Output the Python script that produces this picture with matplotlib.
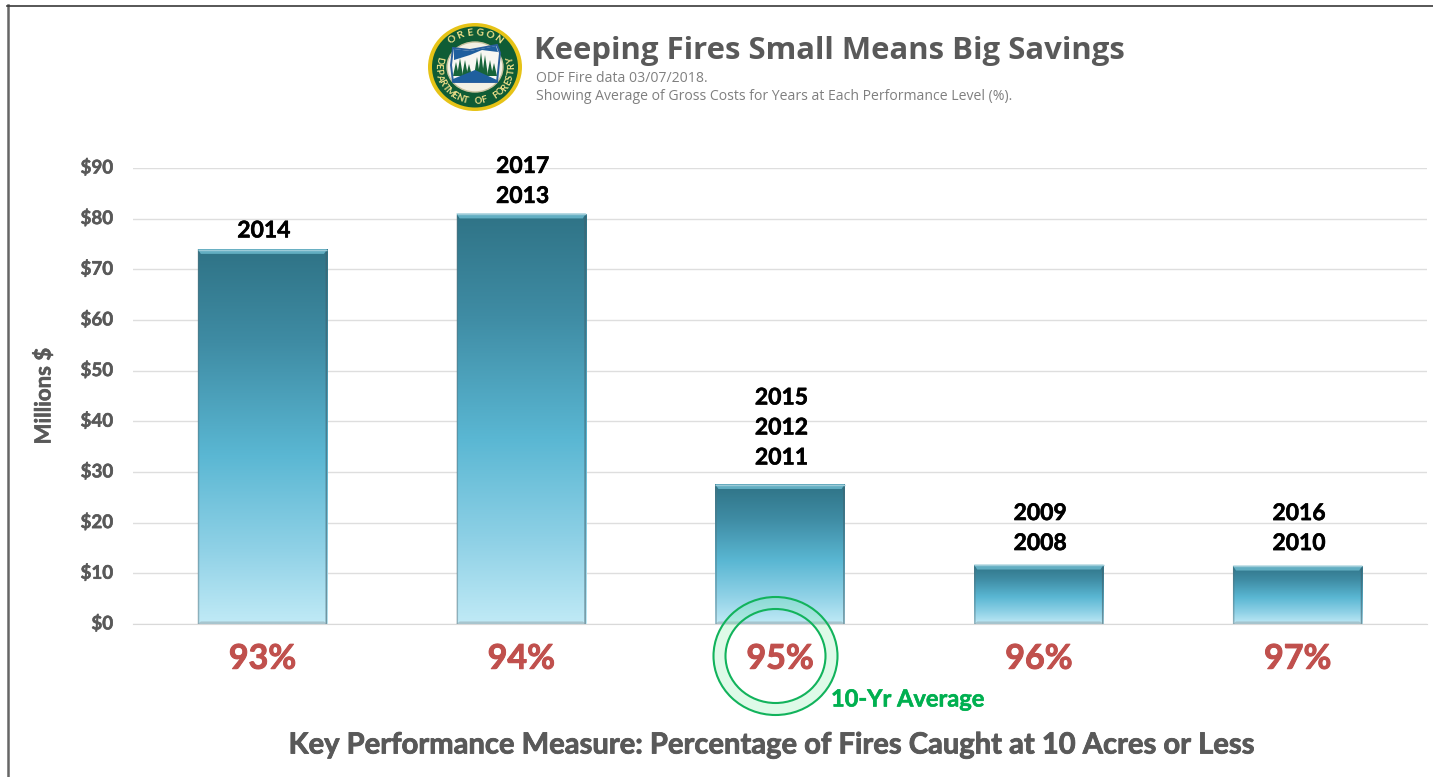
import numpy as np
import matplotlib
matplotlib.use('Agg')
import matplotlib.pyplot as plt
import matplotlib.patheffects as pe
from matplotlib.colors import LinearSegmentedColormap
from matplotlib.patches import Annulus, Ellipse, Polygon
from matplotlib.transforms import ScaledTranslation

plt.rcParams['font.family'] = ['Lato', 'DejaVu Sans']

categories = ['93%', '94%', '95%', '96%', '97%']
costs = [74.0, 81.0, 27.6, 11.7, 11.5]
years = [['2014'], ['2017', '2013'], ['2015', '2012', '2011'], ['2009', '2008'], ['2016', '2010']]
yticks = [0, 10, 20, 30, 40, 50, 60, 70, 80, 90]
label_gap = [5.5, 4.8, 11.3, 7.7, 8.4]  # points between bar top and its lowest year label

W, H = 1433, 777
fig = plt.figure(figsize=(W / 100, H / 100), dpi=100, facecolor='white')
ax = fig.add_axes([133 / W, 1 - 624 / H, (1427 - 133) / W, (624 - 168) / H])


def heavy(color, lw=0.4):
    # Lato bold is a bit lighter than the reference text
    return [pe.withStroke(linewidth=lw, foreground=color)]


# gradient for the bars, dark at the top
grad = LinearSegmentedColormap.from_list('bars', [(0, '#2f7386'), (0.25, '#3f8ca4'), (0.55, '#5ab7d3'),
                                                  (0.8, '#8fd1e6'), (1, '#c0eaf6')])
gradient = np.linspace(0, 1, 256).reshape(-1, 1)

dx, dy = 0.012, 0.95
bars = ax.bar(range(5), costs, width=0.5, color='none', edgecolor='none', zorder=2)
for b in bars:
    x0, w, h = b.get_x(), b.get_width(), b.get_height()
    x1 = x0 + w
    im = ax.imshow(gradient, cmap=grad, extent=[x0, x1, 0, h], aspect='auto', zorder=2)
    im.set_clip_path(b)
    # bevel: light strip on top, darker sides, grey foot
    ax.add_patch(Polygon([(x0, h), (x1, h), (x1 - dx, h - dy), (x0 + dx, h - dy)], fc='#62aec2', ec='none', zorder=3))
    ax.plot([x0, x1], [h - 0.1, h - 0.1], color='#9ccbd8', lw=1, zorder=4, solid_capstyle='butt')
    ax.add_patch(Polygon([(x0, h), (x0 + dx / 2, h - dy), (x0 + dx / 2, 0), (x0, 0)], fc='#55707a', alpha=0.45, ec='none', zorder=3))
    ax.add_patch(Polygon([(x1, h), (x1 - dx / 2, h - dy), (x1 - dx / 2, 0), (x1, 0)], fc='#40606c', alpha=0.6, ec='none', zorder=3))
    ax.add_patch(Polygon([(x0, 0), (x1, 0), (x1 - dx, 0.5), (x0 + dx, 0.5)], fc='#8a9aa0', alpha=0.45, ec='none', zorder=3))

for i, labels in enumerate(years):
    n = len(labels)
    for j, yr in enumerate(labels):
        ax.annotate(yr, (i, costs[i]), xytext=(1, label_gap[i] + 21.6 * (n - 1 - j)), textcoords='offset points',
                    ha='center', va='bottom', fontsize=16.5, fontweight='bold', color='black',
                    annotation_clip=False, zorder=5, path_effects=heavy('black'))

ax.set_xlim(-0.5, 4.5)
ax.set_ylim(0, 90)
ax.set_yticks(yticks)
ax.set_yticklabels(['$%d' % t for t in yticks], fontsize=13.5, fontweight='bold', color='#595959',
                   path_effects=heavy('#595959'))
ax.set_xticks(range(5))
ax.set_xticklabels(categories, fontsize=24.5, fontweight='bold', color='#c0504d', path_effects=heavy('#c0504d', 0.7))
ax.tick_params(axis='both', length=0)
ax.tick_params(axis='x', pad=13.5)
ax.tick_params(axis='y', pad=14.2)
# the dollar labels sit slightly above their gridlines
for lab in ax.get_yticklabels():
    lab.set_transform(lab.get_transform() + ScaledTranslation(0, 1.5 / 72, fig.dpi_scale_trans))
ax.grid(axis='y', color='#dedede', lw=1)
ax.set_axisbelow(True)
for s in ['top', 'right', 'left']:
    ax.spines[s].set_visible(False)
ax.spines['bottom'].set_color('#d9d9d9')

# everything around the chart is placed in pixels
ov = fig.add_axes([0, 0, 1, 1], facecolor='none')
ov.set_xlim(0, W)
ov.set_ylim(H, 0)
ov.axis('off')

ov.plot([8, 8], [5, H], color='#666666', lw=1.8)
ov.plot([7, W], [5.5, 5.5], color='#3a3a3a', lw=1.2)

ov.text(44, 396, 'Millions $', rotation=90, ha='center', va='center', fontsize=16, fontweight='bold', color='#595959',
        path_effects=heavy('#595959'))
ov.text(771, 745.5, 'Key Performance Measure: Percentage of Fires Caught at 10 Acres or Less', ha='center', va='center',
        fontsize=21, fontweight='bold', color='#595959', path_effects=heavy('#595959', 0.6))

# title block
ov.text(534, 51, 'Keeping Fires Small Means Big Savings', ha='left', va='center', fontsize=22.4, fontweight='bold',
        family='Open Sans', color='#595959')
ov.text(536, 79, 'ODF Fire data 03/07/2018.', ha='left', va='center', fontsize=10.1, family='Open Sans', color='#7f7f7f')
ov.text(536, 97, 'Showing Average of Gross Costs for Years at Each Performance Level (%).', ha='left', va='center',
        fontsize=10.1, family='Open Sans', color='#7f7f7f')

# 10-yr average ring
cx, cy = 775.5, 656
ov.add_patch(Annulus((cx, cy), (62, 59), 12, fc='#7fefa7', ec='none', alpha=0.25, zorder=6))
ov.add_patch(Ellipse((cx, cy), 124, 118, fc='none', ec='#12b35c', lw=1.5, zorder=7))
ov.add_patch(Ellipse((cx, cy), 100, 94, fc='none', ec='#12b35c', lw=1.5, zorder=7))
ov.text(831, 699, '10-Yr Average', ha='left', va='center', fontsize=17, fontweight='bold', color='#00b050', zorder=8,
        path_effects=heavy('#00b050'))

# logo
lx, ly = 475, 67
ov.add_patch(Ellipse((lx, ly), 94, 88, fc='#e6c317', ec='none'))
ov.add_patch(Ellipse((lx, ly), 86, 81, fc='#0f5c35', ec='none'))
ov.add_patch(Ellipse((lx, ly), 56, 50, fc='#f4f1e4', ec='#c9c3a0', lw=1))
ov.add_patch(Polygon([(453, 48), (470, 50), (497, 45), (500, 53), (497, 82), (453, 82), (451, 65)], fc='#f7f7f2', ec='#2a5f9e', lw=1.4))
ov.add_patch(Polygon([(454, 49), (470, 51), (496, 46), (498, 52), (482, 50), (470, 55), (454, 60)], fc='#1f5f9e', ec='none'))
for tx, top in zip([456, 460, 465, 469, 477, 481, 485, 490, 494], [62, 58, 60, 64, 57, 52, 55, 60, 63]):
    ov.add_patch(Polygon([(tx - 3, 76), (tx, top), (tx + 3, 76)], fc='#17643a', ec='none'))
ov.add_patch(Polygon([(453, 82), (453, 79), (475, 70), (497, 80), (497, 82)], fc='#1f5f9e', ec='none'))


def arc_text(s, start, step, size, flip=False):
    for k, ch in enumerate(s):
        a = np.radians(start + k * step)
        px = lx + 37 * np.cos(a)
        py = ly - 34.5 * np.sin(a)
        rot = np.degrees(a) + (90 if flip else -90)
        ov.text(px, py, ch, rotation=rot, rotation_mode='anchor', ha='center', va='center',
                fontsize=size, fontweight='bold', color='#efe08a')


arc_text('OREGON', 128, -15.2, 7.4)
arc_text('DEPARTMENT OF FORESTRY', 168, 9.7, 6.8, flip=True)

fig.savefig('out.png', dpi=100)
